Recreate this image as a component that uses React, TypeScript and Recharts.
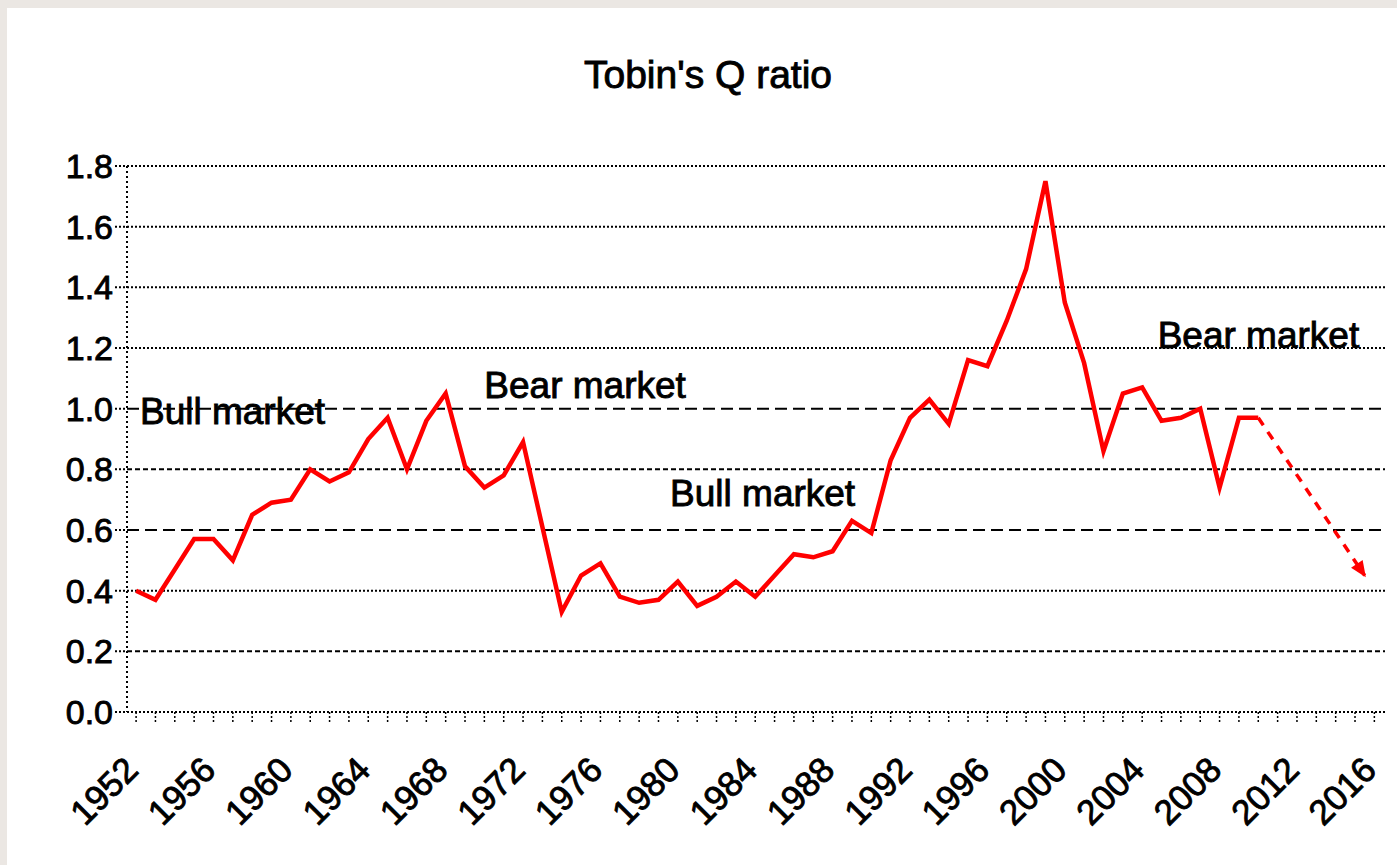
import React from 'react';
import { LineChart, Line, XAxis, YAxis, ReferenceLine, ReferenceDot, Customized } from 'recharts';

const startYear = 1952;
const years = Array.from({ length: 59 }, (_, i) => startYear + i);

// Tobin's Q, annual
const qRatio = [
  0.40, 0.37, 0.47, 0.57, 0.57, 0.50, 0.65, 0.69, 0.70, 0.80,
  0.76, 0.79, 0.90, 0.97, 0.80, 0.96, 1.05, 0.81, 0.74, 0.78,
  0.89, 0.61, 0.33, 0.45, 0.49, 0.38, 0.36, 0.37, 0.43, 0.35,
  0.38, 0.43, 0.38, 0.45, 0.52, 0.51, 0.53, 0.63, 0.59, 0.83,
  0.97, 1.03, 0.95, 1.16, 1.14, 1.29, 1.46, 1.75, 1.35, 1.15,
  0.86, 1.05, 1.07, 0.96, 0.97, 1.00, 0.74, 0.97, 0.97,
];

// dashed projection
const projYears = [2010, 2015.5];
const projValues = [0.97, 0.45];

const yTicks = [0, 0.2, 0.4, 0.6, 0.8, 1.0, 1.2, 1.4, 1.6, 1.8];
const xTicks = Array.from({ length: 65 }, (_, i) => startYear + i);

const annotations = [
  { text: 'Bull market', year: 1952.2, value: 0.95 },
  { text: 'Bear market', year: 1970.0, value: 1.035 },
  { text: 'Bull market', year: 1979.6, value: 0.68 },
  { text: 'Bear market', year: 2004.8, value: 1.2 },
];

const gridDash: Record<string, string> = {
  '0.2': '5 3',
  '0.4': '2 2',
  '0.6': '12 6',
  '0.8': '5 3',
  '1.0': '12 6',
  '1.2': '2 2',
  '1.4': '2 2',
  '1.6': '2 2',
  '1.8': '2 2',
};

const rows: any[] = years.map((y, i) => ({ year: y, q: qRatio[i] }));
projYears.forEach((y, i) => {
  const row = rows.find((r) => r.year === y);
  if (row) row.proj = projValues[i];
  else rows.push({ year: y, proj: projValues[i] });
});

const FONT = '"Liberation Sans", Arial, sans-serif';
const heavy = { stroke: '#000', strokeWidth: 0.9 };

const YTick = ({ x, y, payload }: any) => (
  <text x={x} y={y} dy={12} textAnchor="end" fontFamily={FONT} fontSize={34} fill="#000" {...heavy}>
    {Number(payload.value).toFixed(1)}
  </text>
);

const XTick = ({ x, y, payload }: any) => {
  if ((payload.value - startYear) % 4 !== 0) return <g />;
  return (
    <text
      transform={`translate(${x + 4}, ${y + 46}) rotate(-45)`}
      textAnchor="end"
      fontFamily={FONT}
      fontSize={35}
      fill="#000"
      {...heavy}
    >
      {payload.value}
    </text>
  );
};

const ArrowDot = (props: any) => {
  const { cx, cy, index } = props;
  if (index !== rows.length - 1 || cx == null) return <g key={`d${index}`} />;
  return (
    <path
      key={`d${index}`}
      d="M 2 0 L -14 -7 L -14 7 Z"
      fill="#ff0000"
      transform={`translate(${cx}, ${cy}) rotate(56)`}
    />
  );
};

const Title = () => (
  <text x={701} y={80} textAnchor="middle" fontFamily={FONT} fontSize={39} fill="#000" {...heavy}>
    Tobin's Q ratio
  </text>
);

export default function App() {
  return (
    <div style={{ position: 'absolute', left: 0, top: 0, width: 1397, height: 865, background: '#ebe7e3' }}>
      <div style={{ position: 'absolute', left: 7, top: 8, width: 1390, height: 857, background: '#fff' }}>
        <LineChart width={1390} height={857} data={rows} margin={{ top: 158, right: 12, left: 20, bottom: 33 }}>
          <Customized component={Title} />
          {yTicks.filter((t) => t > 0).map((t) => (
            <ReferenceLine
              key={t}
              y={t}
              stroke="#000"
              strokeWidth={2}
              strokeDasharray={gridDash[t.toFixed(1)]}
            />
          ))}
          <XAxis
            type="number"
            dataKey="year"
            domain={[1951.53, 2016.55]}
            ticks={xTicks}
            interval={0}
            allowDataOverflow
            height={120}
            tickSize={10}
            tickMargin={4}
            tick={<XTick />}
            axisLine={{ stroke: '#000', strokeWidth: 2, strokeDasharray: '2 2' }}
            tickLine={{ stroke: '#000', strokeWidth: 1.5, strokeDasharray: '2 2' }}
          />
          <YAxis
            domain={[0, 1.8]}
            ticks={yTicks}
            interval={0}
            width={100}
            tickSize={12}
            tickMargin={2}
            tick={<YTick />}
            axisLine={{ stroke: '#000', strokeWidth: 2, strokeDasharray: '2 3' }}
            tickLine={{ stroke: '#000', strokeWidth: 2, strokeDasharray: '2 2' }}
          />
          <Line
            type="linear"
            dataKey="q"
            stroke="#ff0000"
            strokeWidth={4.5}
            dot={false}
            activeDot={false}
            isAnimationActive={false}
          />
          <Line
            type="linear"
            dataKey="proj"
            stroke="#ff0000"
            strokeWidth={3.5}
            strokeDasharray="9 8"
            connectNulls
            dot={<ArrowDot />}
            activeDot={false}
            isAnimationActive={false}
          />
          {annotations.map((a, i) => (
            <ReferenceDot
              key={i}
              x={a.year}
              y={a.value}
              r={0}
              ifOverflow="visible"
              shape={(p: any) => (
                <text x={p.cx} y={p.cy} fontFamily={FONT} fontSize={37} fill="#000" {...heavy}>
                  {a.text}
                </text>
              )}
            />
          ))}
        </LineChart>
      </div>
    </div>
  );
}
